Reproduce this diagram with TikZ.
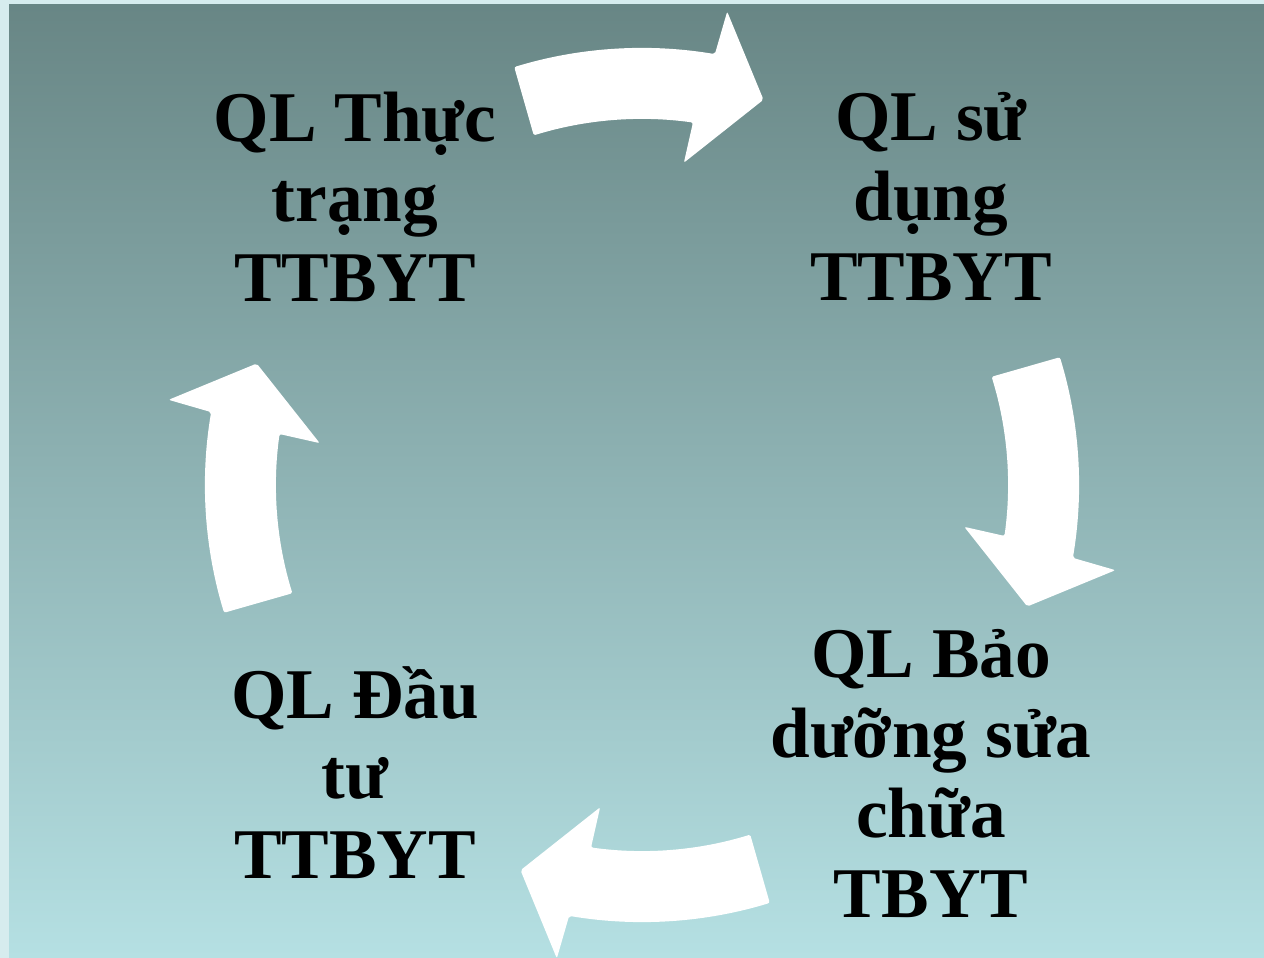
\documentclass[tikz,border=0pt]{standalone}
\usepackage{fontspec}
\setmainfont{Liberation Serif}
\begin{document}
\begin{tikzpicture}[x=1pt,y=1pt,
  label/.style={align=center,font=\fontsize{71.3}{80}\selectfont\bfseries,inner sep=0pt},
  cyclearrow/.style={fill=white,rounded corners=2pt}]
\useasboundingbox (0,0) rectangle (1264,958);
\fill[color={rgb,255:red,214;green,236;blue,238}] (0,0) rectangle (1264,958);
\shade[top color={rgb,255:red,104;green,134;blue,133},bottom color={rgb,255:red,181;green,224;blue,227}] (9,0) rectangle (1264,953);
\coordinate (C) at (642,473);
\foreach \a in {0,-90,-180,-270}{
  \begin{scope}[shift={(C)},rotate=\a]
    \fill[cyclearrow] (107:437pt) arc[start angle=107,end angle=80.4,radius=437pt]
      -- (79.8:481pt) -- (72.5:404pt) -- (82.6:325pt) -- (82:366pt)
      arc[start angle=82,end angle=107.2,radius=366pt] -- cycle;
  \end{scope}
}
\node[label] (thuctrang) at (355,761) {QL Thực\\trạng\\TTBYT};
\node[label] (sudung) at (931,761) {QL sử\\dụng\\TTBYT};
\node[label] (baoduong) at (931,184) {QL Bảo\\dưỡng sửa\\chữa\\TBYT};
\node[label] (dautu) at (355,185) {QL Đầu\\tư\\TTBYT};
\end{tikzpicture}
\end{document}
